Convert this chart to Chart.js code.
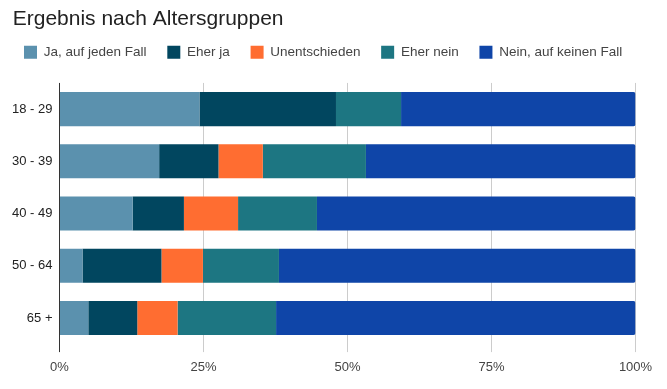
<!DOCTYPE html>
<html>
<head>
<meta charset="utf-8">
<script src="https://cdn.jsdelivr.net/npm/chart.js@4.4.1/dist/chart.umd.min.js"></script>
<style>
  body { margin: 0; background: #fff; }
</style>
</head>
<body>
<canvas id="myChart" width="667" height="389"></canvas>
<script>
var ageGroups = ['18 - 29', '30 - 39', '40 - 49', '50 - 64', '65 +'];
var seriesNames = ['Ja, auf jeden Fall', 'Eher ja', 'Unentschieden', 'Eher nein', 'Nein, auf keinen Fall'];
var jaAufJedenFall = [24.3, 17.3, 12.7, 4.0, 5.0];
var eherJa = [23.7, 10.3, 8.9, 13.7, 8.5];
var unentschieden = [0, 7.7, 9.4, 7.2, 7.0];
var eherNein = [11.3, 17.9, 13.7, 13.2, 17.1];
var neinAufKeinenFall = [40.7, 46.8, 55.3, 61.9, 62.4];
var tickValues = [0, 25, 50, 75, 100];

var colors = ['#5b91ae', '#01465f', '#ff6d31', '#1d7682', '#0f45a8'];
var values = [jaAufJedenFall, eherJa, unentschieden, eherNein, neinAufKeinenFall];
var font = '"Liberation Sans", Arial, sans-serif';

var datasets = seriesNames.map(function (name, i) {
  return {
    label: name,
    data: values[i],
    backgroundColor: colors[i],
    borderWidth: 0,
    borderRadius: i === 4 ? 2 : 0,
    barPercentage: 0.654,
    categoryPercentage: 1
  };
});

// title sits a bit further right than the legend's first box
var shiftTitle = {
  id: 'shiftTitle',
  afterLayout: function (chart) {
    if (chart.titleBlock) chart.titleBlock.left = 12.7;
  }
};

var ctx = document.getElementById('myChart').getContext('2d');
new Chart(ctx, {
  type: 'bar',
  data: { labels: ageGroups, datasets: datasets },
  plugins: [shiftTitle],
  options: {
    responsive: false,
    animation: false,
    indexAxis: 'y',
    layout: { padding: { left: 3.25, right: 0, top: 0, bottom: 5.5 } },
    plugins: {
      tooltip: { enabled: false },
      title: {
        display: true,
        text: 'Ergebnis nach Altersgruppen',
        align: 'start',
        color: '#222',
        font: { family: font, size: 21, weight: 'normal' },
        padding: { top: 6.4, bottom: -6.9 }
      },
      legend: {
        position: 'top',
        align: 'start',
        labels: {
          boxWidth: 13,
          boxHeight: 13,
          padding: 20.75,
          color: '#444',
          font: { family: font, size: 13.5 }
        }
      }
    },
    scales: {
      x: {
        stacked: true,
        min: 0,
        max: 100,
        afterBuildTicks: function (s) {
          s.ticks = tickValues.map(function (v) { return { value: v }; });
        },
        border: { display: false },
        grid: {
          color: function (c) { return c.index === 0 ? '#333' : '#ccc'; },
          tickColor: function (c) { return c.index === 0 ? '#333' : '#ccc'; },
          tickLength: 8,
          drawTicks: true
        },
        ticks: {
          padding: 7.9,
          color: '#444',
          font: { family: font, size: 13 },
          callback: function (v) { return v + '%'; }
        }
      },
      xTop: {
        type: 'linear',
        position: 'top',
        display: true,
        grid: { display: false },
        border: { display: false },
        ticks: { display: false },
        afterFit: function (s) { s.height = 14; }
      },
      y: {
        stacked: true,
        border: { display: false },
        grid: { display: false, drawTicks: false },
        ticks: {
          padding: 7,
          color: '#222',
          font: { family: font, size: 13 }
        },
        afterFit: function (s) { s.width = 56.25; }
      },
      yRight: {
        type: 'category',
        position: 'right',
        display: true,
        grid: { display: false },
        border: { display: false },
        ticks: { display: false },
        afterFit: function (s) { s.width = 31.5; }
      }
    }
  }
});
</script>
</body>
</html>
